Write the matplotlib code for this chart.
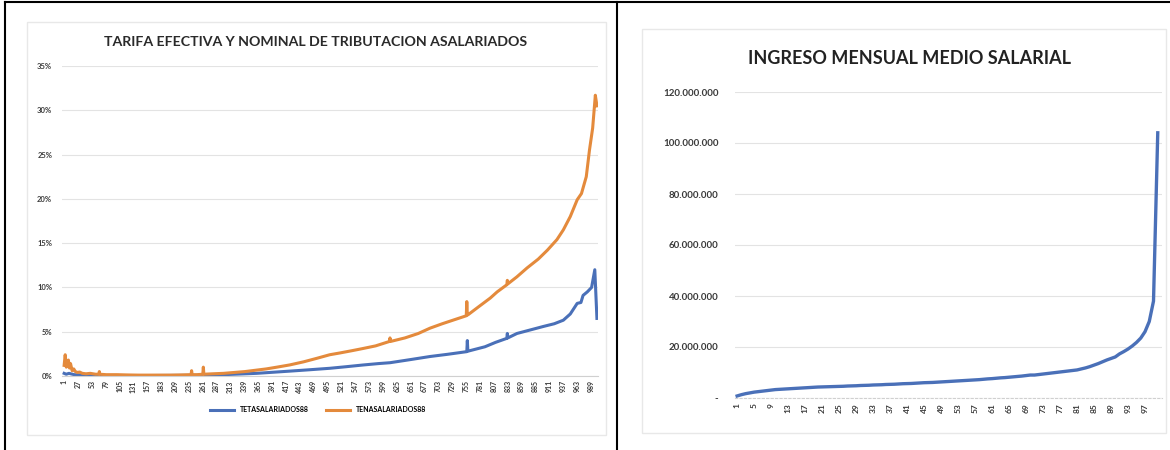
import matplotlib.pyplot as plt
from matplotlib.lines import Line2D
from matplotlib.patches import Rectangle
from matplotlib.ticker import FuncFormatter

plt.rcParams['font.family'] = ['Lato', 'DejaVu Sans']

# left chart: effective / nominal tax rate, index 1..1000
ten_idx = [1, 3, 5, 7, 9, 11, 13, 16, 19, 22, 26, 30, 35, 42, 50, 60, 66, 67, 68, 80,
           100, 120, 140, 160, 180, 200, 220, 239, 240, 241, 250, 261, 262, 263, 280,
           300, 320, 340, 360, 380, 400, 424, 450, 475, 499, 518, 540, 561, 585, 611,
           612, 613, 640, 665, 687, 710, 735, 755, 756, 757, 758, 780, 800, 813, 831,
           832, 833, 850, 869, 890, 907, 925, 937, 950, 963, 971, 980, 986, 992, 997, 1000]
ten_val = [1.2, 2.4, 1.0, 1.1, 1.8, 0.9, 1.4, 0.6, 0.8, 0.5, 0.4, 0.45, 0.3, 0.25, 0.3,
           0.2, 0.2, 0.5, 0.2, 0.15, 0.15, 0.12, 0.1, 0.1, 0.1, 0.1, 0.12, 0.15, 0.6,
           0.15, 0.15, 0.2, 1.0, 0.2, 0.25, 0.3, 0.4, 0.5, 0.65, 0.8, 1.0, 1.25, 1.6,
           2.0, 2.4, 2.6, 2.85, 3.1, 3.4, 3.9, 4.3, 3.9, 4.3, 4.8, 5.4, 5.9, 6.4, 6.8,
           8.4, 6.9, 6.9, 7.9, 8.8, 9.5, 10.3, 10.8, 10.4, 11.2, 12.2, 13.2, 14.2, 15.4,
           16.5, 18.0, 19.9, 20.6, 22.5, 25.5, 28.0, 31.7, 30.5]

tet_idx = [1, 5, 10, 20, 40, 80, 150, 250, 300, 362, 424, 460, 499, 530, 561, 590, 612,
           650, 687, 720, 756, 757, 758, 790, 810, 831, 832, 833, 850, 875, 900, 920,
           937, 950, 963, 970, 974, 982, 990, 996, 1000]
tet_val = [0.3, 0.2, 0.3, 0.15, 0.1, 0.05, 0.05, 0.08, 0.15, 0.3, 0.55, 0.7, 0.87, 1.05,
           1.24, 1.4, 1.5, 1.85, 2.2, 2.45, 2.75, 4.0, 2.8, 3.3, 3.8, 4.25, 4.8, 4.3,
           4.8, 5.2, 5.6, 5.9, 6.3, 7.0, 8.2, 8.3, 9.1, 9.5, 10.0, 12.0, 6.5]

left_ticks = list(range(1, 1000, 26))
pct_ticks = [0, 5, 10, 15, 20, 25, 30, 35]

# right chart: mean monthly salary income by percentile (millions)
perc = list(range(1, 101))
ingreso = [0.8, 1.3, 1.7, 2.0, 2.3, 2.5, 2.7, 2.9, 3.1, 3.3,
           3.4, 3.5, 3.6, 3.7, 3.8, 3.9, 4.0, 4.1, 4.2, 4.3,
           4.35, 4.4, 4.45, 4.5, 4.55, 4.6, 4.7, 4.75, 4.8, 4.9,
           4.95, 5.0, 5.1, 5.15, 5.2, 5.3, 5.35, 5.4, 5.5, 5.6,
           5.65, 5.7, 5.8, 5.9, 6.0, 6.05, 6.1, 6.2, 6.3, 6.4,
           6.5, 6.6, 6.7, 6.8, 6.9, 7.0, 7.1, 7.2, 7.35, 7.5,
           7.6, 7.75, 7.9, 8.0, 8.15, 8.3, 8.45, 8.6, 8.8, 9.0,
           9.0, 9.2, 9.4, 9.6, 9.8, 10.0, 10.2, 10.4, 10.6, 10.8,
           11.0, 11.4, 11.8, 12.3, 12.9, 13.5, 14.2, 14.9, 15.5, 16.1,
           17.3, 18.2, 19.2, 20.4, 21.8, 23.5, 26.0, 30.0, 38.0, 104.0]
right_ticks = list(range(1, 101, 4))
money_ticks = [0, 20e6, 40e6, 60e6, 80e6, 100e6, 120e6]

blue = '#4a70b8'
orange = '#e48a3c'
grid = '#e3e3e3'
txt = '#3a3a3a'

W, H = 1170, 450
fig = plt.figure(figsize=(W / 100, H / 100), dpi=100)

def box(x0, y0, x1, y1):
    return [x0 / W, 1 - y1 / H, (x1 - x0) / W, (y1 - y0) / H]

# table borders and chart frames
fig.add_artist(Line2D([5 / W, 5 / W], [0, 1 - 2 / H], color='black', lw=1.5))
fig.add_artist(Line2D([5 / W, 1], [1 - 2 / H, 1 - 2 / H], color='black', lw=1.5))
fig.add_artist(Line2D([617 / W, 617 / W], [0, 1 - 2 / H], color='black', lw=1.5))
for (x0, y0, x1, y1) in [(27, 22, 606, 435), (642, 29, 1166, 433)]:
    fig.add_artist(Rectangle((x0 / W, 1 - y1 / H), (x1 - x0) / W, (y1 - y0) / H,
                             fill=False, ec='#e8e8e8', lw=1))

# ---- left chart
ax = fig.add_axes(box(62, 66, 598, 376))
ax.plot(tet_idx, [v / 100 for v in tet_val], color=blue, lw=2.2, label='TETASALARIADOS88')
ax.plot(ten_idx, [v / 100 for v in ten_val], color=orange, lw=2.2, label='TENASALARIADOS88')
ax.set_xlim(-3, 1002)
ax.set_ylim(0, 0.35)
ax.set_yticks([p / 100 for p in pct_ticks])
ax.yaxis.set_major_formatter(FuncFormatter(lambda v, p: f'{round(v * 100)}%'))
ax.set_xticks(left_ticks)
ax.set_xticklabels([str(t) for t in left_ticks], rotation=90, fontsize=5, fontweight='bold', color=txt)
ax.tick_params(axis='y', labelsize=5.5, colors=txt, length=0, pad=7)
ax.tick_params(axis='x', length=0, pad=3)
ax.grid(axis='y', color=grid, lw=0.8)
ax.set_axisbelow(True)
for s in ['top', 'right', 'left']:
    ax.spines[s].set_visible(False)
ax.spines['bottom'].set_color('#d0d0d0')
for lab in ax.get_yticklabels():
    lab.set_fontweight('bold')
fig.text(316 / W, 1 - 42 / H, 'TARIFA EFECTIVA Y NOMINAL DE TRIBUTACION ASALARIADOS',
         ha='center', va='center', fontsize=10.2, fontweight='bold', color='#2a2a2a')
fig.legend(*ax.get_legend_handles_labels(), loc='center', bbox_to_anchor=(318 / W, 1 - 410 / H),
           ncol=2, frameon=False, handlelength=3.5, columnspacing=2.5,
           prop={'weight': 'bold', 'size': 5})

# ---- right chart
ax2 = fig.add_axes(box(735, 92, 1162, 398))
ax2.plot(perc, [v * 1e6 for v in ingreso], color=blue, lw=2.4)
ax2.set_xlim(0.5, 101)
ax2.set_ylim(0, 120e6)
ax2.set_yticks(money_ticks)
ax2.yaxis.set_major_formatter(FuncFormatter(
    lambda v, p: '-' if v == 0 else f'{int(v):,}'.replace(',', '.')))
ax2.set_xticks(right_ticks)
ax2.set_xticklabels([str(t) for t in right_ticks], rotation=90, fontsize=6, fontweight='bold', color=txt)
ax2.tick_params(axis='y', labelsize=7, colors=txt, length=0, pad=12)
ax2.tick_params(axis='x', length=0, pad=4)
ax2.grid(axis='y', color=grid, lw=0.8)
ax2.set_axisbelow(True)
for s in ['top', 'right', 'left']:
    ax2.spines[s].set_visible(False)
ax2.spines['bottom'].set_color('#d0d0d0')
ax2.spines['bottom'].set_linestyle((0, (2, 2)))
for lab in ax2.get_yticklabels():
    lab.set_fontweight('bold')
fig.text(909 / W, 1 - 58 / H, 'INGRESO MENSUAL MEDIO SALARIAL',
         ha='center', va='center', fontsize=13, fontweight='bold', color='#222222')

fig.savefig('out.png', dpi=100)
